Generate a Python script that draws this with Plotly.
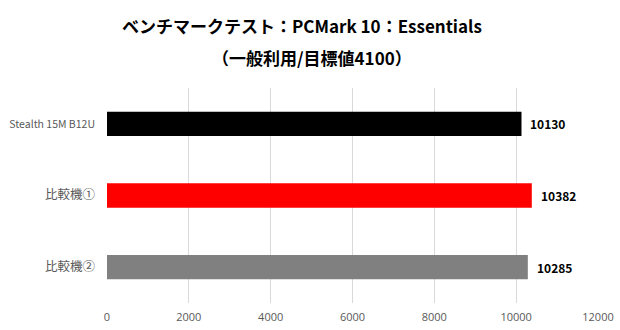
import plotly.graph_objects as go

# PCMark 10 Essentials scores
categories = ["Stealth 15M B12U", "比較機①", "比較機②"]
scores = [10130, 10382, 10285]
bar_colors = ["#000000", "#ff0000", "#808080"]
tick_values = [0, 2000, 4000, 6000, 8000, 10000, 12000]

title_line1 = "ベンチマークテスト：PCMark 10：Essentials"
title_line2 = "（一般利用/目標値4100）"

jp_font = "Noto Sans CJK JP"
num_font = "Open Sans"

W, H = 620, 330
ML, MR, MT, MB = 107, 22, 88, 27
plot_w = W - ML - MR
plot_h = H - MT - MB


def px_x(px):
    """Horizontal pixel position -> paper fraction."""
    return (px - ML) / plot_w


def px_y(py):
    """Vertical pixel position (from top) -> paper fraction."""
    return 1 + (MT - py) / plot_h


def label_html(name):
    # Japanese names are set a little larger than the Latin one
    if name.isascii():
        return name
    return f'<span style="font-size:12.5px">{name}</span>'


fig = go.Figure()
fig.add_trace(go.Bar(
    x=scores,
    y=categories,
    orientation="h",
    marker=dict(color=bar_colors, line=dict(width=0)),
    width=0.34,
    hoverinfo="x+y",
))

# value labels to the right of each bar
for cat, val in zip(categories, scores):
    fig.add_annotation(
        x=val, y=cat, xref="x", yref="y",
        text=f"<b>{val}</b>", showarrow=False,
        xanchor="left", xshift=7,
        font=dict(family=jp_font, size=12, color="#000000"),
    )

# two-line chart title
fig.add_annotation(
    x=px_x(302), y=px_y(25), xref="paper", yref="paper",
    text=f"<b>{title_line1}</b>", showarrow=False,
    xanchor="center", yanchor="middle",
    font=dict(family=jp_font, size=17, color="#000000"),
)
fig.add_annotation(
    x=px_x(312), y=px_y(57), xref="paper", yref="paper",
    text=f"<b>{title_line2}</b>", showarrow=False,
    xanchor="center", yanchor="middle",
    font=dict(family=jp_font, size=17, color="#000000"),
)

fig.update_layout(
    width=W, height=H,
    margin=dict(l=ML, r=MR, t=MT, b=MB, autoexpand=False),
    paper_bgcolor="#ffffff",
    plot_bgcolor="#ffffff",
    showlegend=False,
    font=dict(family=jp_font, size=11, color="#595959"),
    xaxis=dict(
        range=[0, 12000],
        tickvals=tick_values,
        ticktext=[str(v) for v in tick_values],
        showgrid=True, gridcolor="#d9d9d9", gridwidth=1,
        zeroline=False, showline=False,
        ticks="", ticklabelstandoff=6,
        tickfont=dict(family=num_font, size=11, color="#595959"),
        automargin=False,
        fixedrange=True,
    ),
    yaxis=dict(
        autorange="reversed",
        tickmode="array",
        tickvals=categories,
        ticktext=[label_html(c) for c in categories],
        showgrid=False, zeroline=False, showline=False,
        ticks="", ticklabelstandoff=11,
        tickfont=dict(family=jp_font, size=10.5, color="#595959"),
        automargin=False,
        fixedrange=True,
    ),
)

fig.write_html("out.html")
